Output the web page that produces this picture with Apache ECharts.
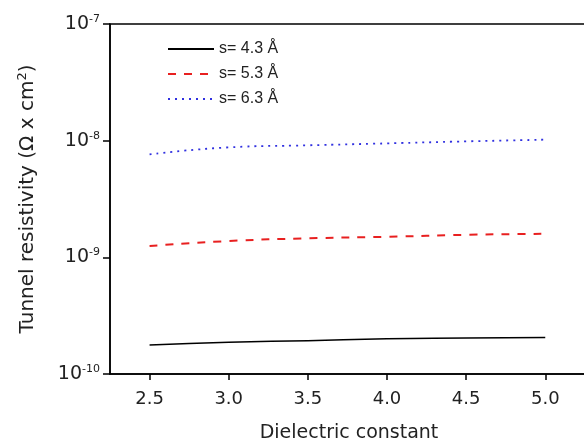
<!DOCTYPE html>
<html><head><meta charset="utf-8">
<script src="https://cdn.jsdelivr.net/npm/echarts@6/dist/echarts.min.js"></script>
<style>html,body{margin:0;padding:0;background:#fff}#c{width:584px;height:443px}</style>
</head><body><div id="c"></div>
<script>
const dielectric = [2.5, 3.0, 3.5, 4.0, 4.5, 5.0];
const s43 = [1.77e-10, 1.87e-10, 1.93e-10, 2.01e-10, 2.035e-10, 2.06e-10];
const s53 = [1.25e-9, 1.38e-9, 1.455e-9, 1.50e-9, 1.56e-9, 1.59e-9];
const s63 = [7.63e-9, 8.76e-9, 9.12e-9, 9.48e-9, 9.86e-9, 1.02e-8];
const xTicks = [2.5, 3.0, 3.5, 4.0, 4.5, 5.0];
const names = ['s= 4.3 Å', 's= 5.3 Å', 's= 6.3 Å'];

const font = 'DejaVu Sans, Verdana, sans-serif';
const legendFont = 'Liberation Sans, Arial, sans-serif';
const pair = (arr) => dielectric.map((x, i) => [x, arr[i]]);

const chart = echarts.init(document.getElementById('c'));
chart.setOption({
  animation: false,
  backgroundColor: '#fff',
  textStyle: { fontFamily: font, color: '#222' },
  grid: { left: 110, top: 24, right: -4, bottom: 69, containLabel: false, outerBoundsMode: 'none',
    show: true, borderColor: '#000', borderWidth: 1.5, backgroundColor: 'transparent' },
  legend: {
    orient: 'vertical', left: 167, top: 41, padding: 0, itemWidth: 46, itemHeight: 14, itemGap: 9,
    itemStyle: { opacity: 0 },
    textStyle: { fontFamily: legendFont, fontSize: 16, color: '#222' },
    data: names
  },
  xAxis: {
    type: 'value', min: 2.25, max: 5.27,
    name: 'Dielectric constant', nameLocation: 'middle', nameGap: 50,
    nameTextStyle: { fontFamily: font, fontSize: 19, color: '#222' },
    axisLine: { show: true, onZero: false, lineStyle: { color: '#000', width: 1.5 } },
    axisTick: { show: true, customValues: xTicks, length: 6, inside: false, lineStyle: { color: '#000', width: 1.5 } },
    axisLabel: { customValues: xTicks, margin: 16, fontSize: 18, color: '#222', fontFamily: font,
      formatter: v => v.toFixed(1) },
    splitLine: { show: false }
  },
  yAxis: {
    type: 'log', logBase: 10, min: 1e-10, max: 1e-7,
    name: '{a|Tunnel resistivity (Ω x cm}{s|2}{a|)}', nameLocation: 'middle', nameGap: 70,
    nameTextStyle: { rich: {
      a: { fontFamily: font, fontSize: 20, color: '#222' },
      s: { fontFamily: font, fontSize: 13, color: '#222', verticalAlign: 'bottom', padding: [0,0,11,0] }
    } },
    axisLine: { show: true, lineStyle: { color: '#000', width: 1.5 } },
    axisTick: { show: true, length: 7, inside: false, lineStyle: { color: '#000', width: 1.5 } },
    minorTick: { show: false },
    axisLabel: { margin: 10, formatter: v => '{b|10}{s|' + Math.round(Math.log10(v)) + '}',
      rich: {
        b: { fontFamily: font, fontSize: 19, color: '#222' },
        s: { fontFamily: font, fontSize: 11, color: '#222', verticalAlign: 'bottom', padding: [0,0,10,0] }
      } },
    splitLine: { show: false }
  },
  series: [
    { name: names[0], type: 'line', data: pair(s43), symbol: 'none', smooth: true,
      lineStyle: { color: '#000', width: 1.5, type: 'solid' }, itemStyle: { color: '#000' } },
    { name: names[1], type: 'line', data: pair(s53), symbol: 'none', smooth: true,
      lineStyle: { color: '#e82020', width: 2, type: [8, 8] }, itemStyle: { color: '#e82020' } },
    { name: names[2], type: 'line', data: pair(s63), symbol: 'none', smooth: true,
      lineStyle: { color: '#3030e0', width: 1.8, type: [2, 5] }, itemStyle: { color: '#3030e0' } }
  ]
});
</script></body></html>
